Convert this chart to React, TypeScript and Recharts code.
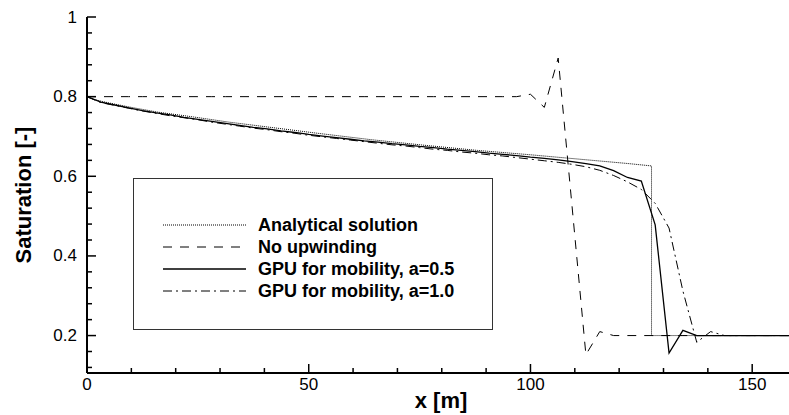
import { Legend, Line, LineChart, XAxis, YAxis } from "recharts";

const FONT = "'Liberation Sans', Arial, sans-serif";

// numerical grid (cell positions, m)
const gridX = [
  0, 3.125, 6.25, 9.375, 12.5, 15.625, 18.75, 21.875, 25, 28.125, 31.25, 34.375, 37.5, 40.625, 43.75, 46.875,
  50, 53.125, 56.25, 59.375, 62.5, 65.625, 68.75, 71.875, 75, 78.125, 81.25, 84.375, 87.5, 90.625, 93.75, 96.875,
  100, 103.125, 106.25, 109.375, 112.5, 115.625, 118.75, 121.875, 125, 128.125, 131.25, 134.375, 137.5, 140.625,
  143.75, 146.875, 150, 153.125, 156.25, 159.375,
];

const noUpwinding = [
  0.8, 0.8, 0.8, 0.8, 0.8, 0.8, 0.8, 0.8, 0.8, 0.8, 0.8, 0.8, 0.8, 0.8, 0.8, 0.8,
  0.8, 0.8, 0.8, 0.8, 0.8, 0.8, 0.8, 0.8, 0.8, 0.8, 0.8, 0.8, 0.8, 0.8, 0.8, 0.8,
  0.806, 0.773, 0.897, 0.525, 0.152, 0.21, 0.2, 0.2, 0.2, 0.2, 0.2, 0.2, 0.2, 0.2,
  0.2, 0.2, 0.2, 0.2, 0.2, 0.2,
];

const gpuA05 = [
  0.8, 0.786, 0.779, 0.772, 0.765, 0.759, 0.754, 0.748, 0.743, 0.738, 0.733, 0.728, 0.723, 0.719, 0.714, 0.71,
  0.705, 0.701, 0.697, 0.693, 0.689, 0.686, 0.682, 0.679, 0.675, 0.672, 0.668, 0.665, 0.662, 0.658, 0.655, 0.652,
  0.648, 0.645, 0.641, 0.637, 0.632, 0.626, 0.614, 0.597, 0.588, 0.478, 0.156, 0.213, 0.2, 0.2,
  0.2, 0.2, 0.2, 0.2, 0.2, 0.2,
];

const gpuA10 = [
  0.8, 0.785, 0.778, 0.771, 0.764, 0.758, 0.752, 0.747, 0.742, 0.736, 0.731, 0.726, 0.721, 0.717, 0.712, 0.708,
  0.703, 0.699, 0.695, 0.691, 0.687, 0.683, 0.679, 0.676, 0.672, 0.668, 0.665, 0.661, 0.658, 0.654, 0.651, 0.647,
  0.643, 0.639, 0.635, 0.63, 0.624, 0.615, 0.602, 0.586, 0.567, 0.532, 0.47, 0.312, 0.183, 0.21,
  0.2, 0.2, 0.2, 0.2, 0.2, 0.2,
];

// analytical (Buckley-Leverett) profile
const analyticalX = [0, 1.5, 5, 10, 16, 24, 32, 42, 52, 64, 76, 88, 100, 112, 122, 127.3, 127.3, 160];
const analyticalS = [0.8, 0.793, 0.784, 0.773, 0.761, 0.749, 0.736, 0.722, 0.708, 0.692, 0.678, 0.665, 0.654, 0.642, 0.632, 0.626, 0.2, 0.2];

const xTicks = [0, 10, 20, 30, 40, 50, 60, 70, 80, 90, 100, 110, 120, 130, 140, 150];
const xMajor = [0, 50, 100, 150];
const yTicks = [0.12, 0.16, 0.2, 0.24, 0.28, 0.32, 0.36, 0.4, 0.44, 0.48, 0.52, 0.56, 0.6, 0.64, 0.68, 0.72, 0.76, 0.8, 0.84, 0.88, 0.92, 0.96, 1];
const yMajor = [0.2, 0.4, 0.6, 0.8, 1];

const series = [
  { key: "analytical", name: "Analytical solution", dash: "1 1", width: 1 },
  { key: "noUpwind", name: "No upwinding", dash: "9 8", width: 1 },
  { key: "gpu05", name: "GPU for mobility, a=0.5", dash: undefined, width: 1.3 },
  { key: "gpu10", name: "GPU for mobility, a=1.0", dash: "9 4 2 4", width: 1 },
];

const rows = gridX.map((x, i) => ({ x, noUpwind: noUpwinding[i], gpu05: gpuA05[i], gpu10: gpuA10[i] }));
const analytical = analyticalX.map((x, i) => ({ x, analytical: analyticalS[i] }));

const isIn = (list: number[], v: number) => list.some((m) => Math.abs(m - v) < 1e-6);

function YTick(p: any) {
  const v = p.payload.value;
  const major = isIn(yMajor, v);
  return (
    <g>
      <line x1={p.x} x2={p.x + (major ? 9 : 5)} y1={p.y} y2={p.y} stroke="#000" strokeWidth={1.5} />
      {major && (
        <text x={p.x - 10} y={p.y} textAnchor="end" dominantBaseline="central" fontFamily={FONT} fontSize={17} fill="#000">
          {String(v)}
        </text>
      )}
    </g>
  );
}

function XTick(p: any) {
  const v = p.payload.value;
  const major = isIn(xMajor, v);
  return (
    <g>
      <line x1={p.x} x2={p.x} y1={p.y} y2={p.y - (major ? 9 : 5)} stroke="#000" strokeWidth={1.5} />
      {major && (
        <text x={p.x} y={p.y + 17} textAnchor="middle" fontFamily={FONT} fontSize={17} fill="#000">
          {String(v)}
        </text>
      )}
    </g>
  );
}

function LegendBox() {
  return (
    <div style={{ width: 360, height: 152, border: "1px solid #333", boxSizing: "border-box", background: "#fff" }}>
      <svg width={358} height={150}>
        {series.map((s, i) => (
          <g key={s.key}>
            <line x1={29} x2={112} y1={46 + i * 22} y2={46 + i * 22} stroke="#000" strokeWidth={s.width} strokeDasharray={s.dash} />
            <text x={124} y={46 + i * 22} dominantBaseline="central" fontFamily={FONT} fontWeight="bold" fontSize={18} fill="#000">
              {s.name}
            </text>
          </g>
        ))}
      </svg>
    </div>
  );
}

export default function App() {
  return (
    <div style={{ position: "absolute", left: 0, top: 0, width: 789, height: 415, background: "#fff" }}>
      <LineChart width={789} height={415} data={rows} margin={{ top: 17, right: 0, bottom: 0, left: 0 }}>
        <XAxis
          dataKey="x"
          type="number"
          domain={[0, 158.3]}
          allowDataOverflow
          ticks={xTicks}
          interval={0}
          tick={<XTick />}
          tickLine={false}
          tickSize={0}
          tickMargin={0}
          height={42}
          axisLine={{ stroke: "#000", strokeWidth: 2 }}
          label={(p: any) => (
            <text x={p.viewBox.x + p.viewBox.width / 2 + 3} y={p.viewBox.y + 35} textAnchor="middle" fontFamily={FONT} fontWeight="bold" fontSize={22} fill="#000">
              x [m]
            </text>
          )}
        />
        <YAxis
          type="number"
          domain={[0.106, 1]}
          allowDataOverflow
          ticks={yTicks}
          interval={0}
          tick={<YTick />}
          tickLine={false}
          tickSize={0}
          tickMargin={0}
          width={87}
          axisLine={{ stroke: "#000", strokeWidth: 2 }}
          label={(p: any) => {
            const cx = 23;
            const cy = p.viewBox.y + p.viewBox.height / 2;
            return (
              <text x={cx} y={cy} transform={`rotate(-90, ${cx}, ${cy})`} textAnchor="middle" dominantBaseline="central" fontFamily={FONT} fontWeight="bold" fontSize={22} fill="#000">
                Saturation [-]
              </text>
            );
          }}
        />
        <Legend
          layout="vertical"
          align="center"
          verticalAlign="middle"
          content={<LegendBox />}
          wrapperStyle={{ left: 133, top: 178, width: 360, height: 152 }}
        />
        <Line data={analytical} dataKey="analytical" name="Analytical solution" type="linear" stroke="#000" strokeWidth={1} strokeDasharray="1 1" dot={false} isAnimationActive={false} />
        <Line dataKey="noUpwind" name="No upwinding" type="linear" stroke="#000" strokeWidth={1} strokeDasharray="9 8" dot={false} isAnimationActive={false} />
        <Line dataKey="gpu05" name="GPU for mobility, a=0.5" type="linear" stroke="#000" strokeWidth={1.3} dot={false} isAnimationActive={false} />
        <Line dataKey="gpu10" name="GPU for mobility, a=1.0" type="linear" stroke="#000" strokeWidth={1} strokeDasharray="9 4 2 4" dot={false} isAnimationActive={false} />
      </LineChart>
    </div>
  );
}
